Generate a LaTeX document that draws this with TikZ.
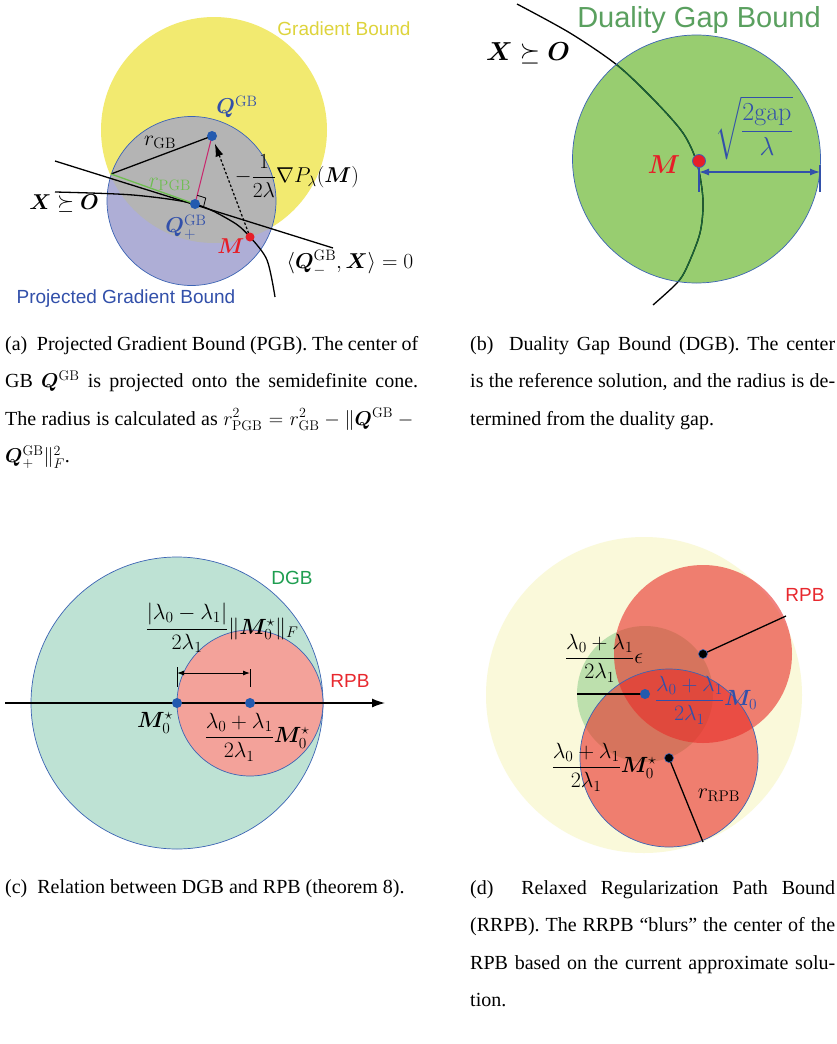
\documentclass[tikz,border=0pt]{standalone}
\usepackage{fix-cm}
\usepackage{amsmath,amssymb}
\usepackage{bm}
\usepackage[no-math]{fontspec}
\setmainfont{Liberation Serif}
\setsansfont{Liberation Sans}
\usetikzlibrary{arrows.meta,calc,positioning}
\definecolor{gbyellow}{RGB}{242,234,112}
\definecolor{pgblav}{RGB}{174,174,214}
\definecolor{pgbgray}{RGB}{180,180,180}
\definecolor{circblue}{RGB}{60,100,180}
\definecolor{ptblue}{RGB}{35,90,175}
\definecolor{qblue}{RGB}{50,80,170}
\definecolor{mred}{RGB}{230,30,40}
\definecolor{rgreen}{RGB}{110,190,80}
\definecolor{magline}{RGB}{200,40,110}
\definecolor{gbtext}{RGB}{222,212,60}
\definecolor{pgbtext}{RGB}{50,80,170}
\definecolor{dgbgreen}{RGB}{152,205,112}
\definecolor{darkgreen}{RGB}{25,100,55}
\definecolor{dgbtext}{RGB}{90,160,95}
\definecolor{dgbteal}{RGB}{190,226,212}
\definecolor{rpbpink}{RGB}{243,162,154}
\definecolor{lblgreen}{RGB}{30,158,80}
\definecolor{lblred}{RGB}{232,40,46}
\definecolor{paleyellow}{RGB}{250,249,218}
\definecolor{rpbred}{RGB}{232,45,40}
\definecolor{epsgreen}{RGB}{130,200,130}
\tikzset{
  circline/.style={draw=circblue,line width=0.7pt},
  blk/.style={line width=1.3pt},
  ptdot/.style={circle,inner sep=0pt,minimum size=#1},
  ptdot/.default=10pt,
  mathA/.style={font=\fontsize{21.5}{26}\selectfont,inner sep=0pt},
  mathB/.style={font=\fontsize{26}{31}\selectfont,inner sep=0pt},
  mathC/.style={font=\fontsize{22}{27}\selectfont,inner sep=0pt},
  sanslbl/.style={font=\sffamily\fontsize{19}{23}\selectfont,inner sep=0pt},
  capt/.style={font=\fontsize{20}{37.5}\selectfont,align=justify,inner sep=0pt,anchor=base west}
}
\begin{document}
\begin{tikzpicture}[x=1pt,y=-1pt,>=Latex,line join=round]
  \fill[white] (0,0) rectangle (837,1044);
  \useasboundingbox (0,0) rectangle (837,1044);
  % (a) projected gradient bound
  \begin{scope}
    \coordinate (gbc) at (214,130);
    \coordinate (pgbc) at (191.5,201);
    \fill[gbyellow] (gbc) circle[radius=113pt];
    \fill[pgblav] (pgbc) circle[radius=84.5pt];
    \begin{scope}\clip (gbc) circle[radius=113pt];
      \fill[pgbgray] (pgbc) circle[radius=84.5pt];
    \end{scope}
    \draw[circline] (pgbc) circle[radius=84.5pt];
    \coordinate (qgb) at (212,136);
    \coordinate (qplus) at (195,204);
    \coordinate (mpt) at (250,237);
    \coordinate (tang) at (111,174);
    \coordinate (hl) at (55,161);
    \coordinate (hr) at (333,248);
    \draw[blk] (hl) -- (hr);
    \draw[blk] plot[smooth] coordinates {(55,192) (133,195) (195,204) (233,222) (250,237) (267,260) (275,297)};
    \draw[blk] (tang) -- (qgb);
    \draw[rgreen,blk] (tang) -- (qplus);
    \draw[magline,line width=1pt] (qplus) -- (qgb);
    \coordinate (ra1) at ($(qplus)!9pt!(hr)$);
    \coordinate (ra3) at ($(qplus)!9pt!(qgb)$);
    \draw[line width=0.8pt] (ra1) -- ($(ra1)+(ra3)-(qplus)$) -- (ra3);
    \draw[line width=1.2pt,dash pattern=on 2.5pt off 2pt,-{Latex[length=13pt,width=8pt]},shorten >=8pt,shorten <=4pt] (mpt) -- (qgb);
    \node[ptdot,fill=ptblue] (dqgb) at (qgb) {};
    \node[ptdot,fill=ptblue] (dqplus) at (qplus) {};
    \node[ptdot=9pt,fill=mred] (dm) at (mpt) {};
    \node[sanslbl,text=gbtext] (lgb) at (344,29) {Gradient Bound};
    \node[sanslbl,text=pgbtext] (lpgb) at (126,299) {Projected Gradient Bound};
    \node[mathA,text=qblue] (lqgb) at (237,107) {$\bm{Q}^{\mathrm{GB}}$};
    \node[mathA] (lrgb) at (160,142) {$r_{\mathrm{GB}}$};
    \node[mathA,text=rgreen] (lrpgb) at (170,184) {$r_{\mathrm{PGB}}$};
    \node[mathA] (lgrad) at (297,176) {$-\dfrac{1}{2\lambda}\nabla P_\lambda(\bm{M})$};
    \node[mathA] (lcone) at (64,204) {$\bm{X}\succeq\bm{O}$};
    \node[mathA,text=qblue] (lqplus) at (186,227) {$\bm{Q}_+^{\mathrm{GB}}$};
    \node[mathA,text=mred] (lm) at (231,246) {$\bm{M}$};
    \node[mathA] (lhyp) at (350,263) {$\langle\bm{Q}_-^{\mathrm{GB}},\bm{X}\rangle=0$};
  \end{scope}
  % (b) duality gap bound
  \begin{scope}[shift={(420,0)}]
    \coordinate (dgbc) at (276.5,159);
    \fill[dgbgreen] (dgbc) circle[radius=124pt];
    \draw[blk] plot[smooth] coordinates {(97,4) (150,33) (197,65) (234,100) (263,133) (277,163) (283,200) (280,233) (267,267) (257,283) (233,305)};
    \begin{scope}\clip (dgbc) circle[radius=124pt];
      \draw[blk,darkgreen] plot[smooth] coordinates {(97,4) (150,33) (197,65) (234,100) (263,133) (277,163) (283,200) (280,233) (267,267) (257,283) (233,305)};
    \end{scope}
    \draw[circline] (dgbc) circle[radius=124pt];
    \coordinate (mb) at (279,161);
    \coordinate (da) at (279,172);
    \coordinate (db) at (400,172);
    \draw[qblue,blk,{Latex[length=10pt,width=7pt]}-{Latex[length=10pt,width=7pt]}] (da) -- (db);
    \draw[qblue,blk] ([yshift=7pt]da) -- ([yshift=-20pt]da);
    \draw[qblue,blk] ([yshift=7pt]db) -- ([yshift=-20pt]db);
    \node[ptdot=13pt,fill=mred,draw=circblue,line width=0.8pt] (dmb) at (mb) {};
    \node[sanslbl,font=\sffamily\fontsize{29}{34}\selectfont,text=dgbtext] (ldgb) at (279,20) {Duality Gap Bound};
    \node[mathB] (lconeb) at (108,53) {$\bm{X}\succeq\bm{O}$};
    \node[mathB,text=mred] (lmb) at (244,165) {$\bm{M}$};
    \node[mathB,text=qblue] (lrad) at (334,128) {$\sqrt{\dfrac{2\mathrm{gap}}{\lambda}}$};
  \end{scope}
  % (c) relation between DGB and RPB
  \begin{scope}[shift={(0,540)}]
    \coordinate (dgbc2) at (177,163);
    \coordinate (rpbc) at (250,163);
    \fill[dgbteal] (dgbc2) circle[radius=146pt];
    \draw[circline] (dgbc2) circle[radius=146pt];
    \fill[rpbpink] (rpbc) circle[radius=73pt];
    \draw[circline] (rpbc) circle[radius=73pt];
    \coordinate (axl) at (5,163);
    \coordinate (axr) at (385,163);
    \draw[blk,-{Latex[length=13pt,width=9pt]}] (axl) -- (axr);
    \coordinate (dl) at (177,133);
    \coordinate (dr) at (250,133);
    \draw[line width=0.9pt,{Latex[length=7pt,width=5pt]}-{Latex[length=7pt,width=5pt]}] (dl) -- (dr);
    \draw[line width=0.9pt] ([yshift=6pt]dl) -- ([yshift=-14pt]dl);
    \draw[line width=0.9pt] ([yshift=4pt]dr) -- ([yshift=-14pt]dr);
    \node[ptdot,fill=ptblue] (dm0) at (dgbc2) {};
    \node[ptdot,fill=ptblue] (drpb) at (rpbc) {};
    \node[sanslbl,text=lblgreen] (ldgbc) at (292,38) {DGB};
    \node[sanslbl,text=lblred] (lrpbc) at (350,141) {RPB};
    \node[mathC] (lgap) at (222,88) {$\dfrac{|\lambda_0-\lambda_1|}{2\lambda_1}\|\bm{M}_0^\star\|_F$};
    \node[mathC] (lm0c) at (155,183) {$\bm{M}_0^\star$};
    \node[mathC] (lcen) at (257,197) {$\dfrac{\lambda_0+\lambda_1}{2\lambda_1}\bm{M}_0^\star$};
  \end{scope}
  % (d) relaxed regularization path bound
  \begin{scope}[shift={(420,540)}]
    \coordinate (yc) at (224,155);
    \coordinate (ec) at (225,154);
    \coordinate (rc1) at (283,114);
    \coordinate (rc2) at (249,218);
    \fill[paleyellow] (yc) circle[radius=158pt];
    \fill[epsgreen,fill opacity=0.5] (ec) circle[radius=68pt];
    \fill[rpbred,fill opacity=0.6] (rc1) circle[radius=89pt];
    \fill[rpbred,fill opacity=0.6] (rc2) circle[radius=89pt];
    \draw[circline] (rc2) circle[radius=89pt];
    \coordinate (re1) at (366,76);
    \coordinate (re2) at (283,302);
    \coordinate (ee) at (157,154);
    \draw[blk] (rc1) -- (re1);
    \draw[blk] (rc2) -- (re2);
    \draw[blk] (ee) -- (ec);
    \node[ptdot=9pt,fill=black,draw=circblue,line width=0.6pt] (drc1) at (rc1) {};
    \node[ptdot=9pt,fill=black,draw=circblue,line width=0.6pt] (drc2) at (rc2) {};
    \node[ptdot,fill=ptblue] (dec) at (ec) {};
    \node[sanslbl,text=lblred] (lrpbd) at (385,55) {RPB};
    \node[mathC] (leps) at (184,118) {$\dfrac{\lambda_0+\lambda_1}{2\lambda_1}\epsilon$};
    \node[mathC,text=qblue] (lm0d) at (286,160) {$\dfrac{\lambda_0+\lambda_1}{2\lambda_1}\bm{M}_0$};
    \node[mathC] (lm0sd) at (184,227) {$\dfrac{\lambda_0+\lambda_1}{2\lambda_1}\bm{M}_0^\star$};
    \node[mathC] (lrrpb) at (299,255) {$r_{\mathrm{RPB}}$};
  \end{scope}
  % captions
  \node[capt,text width=413pt] (capa) at (5,350) {(a)\ \ Projected Gradient Bound (PGB). The center of\linebreak GB $\bm{Q}^{\mathrm{GB}}$ is projected onto the semidefinite cone.\linebreak The radius is calculated as $r_{\mathrm{PGB}}^2=r_{\mathrm{GB}}^2-\|\bm{Q}^{\mathrm{GB}}-{}$\linebreak $\bm{Q}_+^{\mathrm{GB}}\|_F^2$.};
  \node[capt,text width=365pt] (capb) at (470,350) {(b)\ \ Duality Gap Bound (DGB). The center\linebreak is the reference solution, and the radius is de-\linebreak termined from the duality gap.};
  \node[capt,text width=413pt] (capc) at (5,893) {(c)\ \ Relation between DGB and RPB (theorem 8).};
  \node[capt,text width=365pt] (capd) at (470,894) {(d)\ \ Relaxed Regularization Path Bound\linebreak (RRPB). The RRPB ``blurs'' the center of the\linebreak RPB based on the current approximate solu-\linebreak tion.};
\end{tikzpicture}
\end{document}
